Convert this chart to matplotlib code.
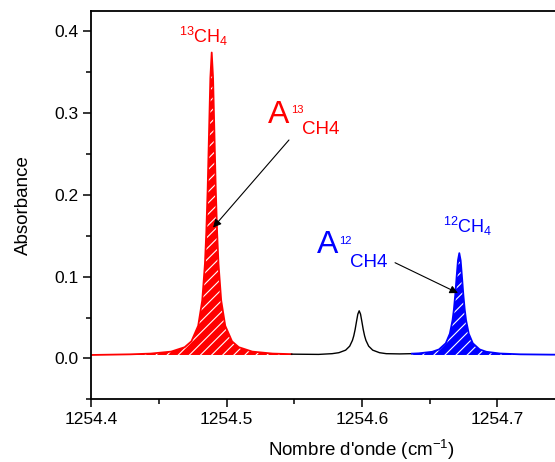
import numpy as np
import matplotlib
matplotlib.use("Agg")
import matplotlib.pyplot as plt

plt.rcParams['font.family'] = ['Liberation Sans', 'DejaVu Sans']
plt.rcParams['mathtext.fontset'] = 'custom'
plt.rcParams['mathtext.rm'] = 'Liberation Sans'
plt.rcParams['mathtext.it'] = 'Liberation Sans'
plt.rcParams['mathtext.default'] = 'regular'
plt.rcParams['hatch.linewidth'] = 0.8

# ---- data ----
red_x = [1254.400, 1254.429, 1254.444, 1254.459, 1254.469, 1254.474, 1254.479,
         1254.482, 1254.484, 1254.485, 1254.486, 1254.487, 1254.488, 1254.489,
         1254.490, 1254.491, 1254.492, 1254.493, 1254.494, 1254.496, 1254.499,
         1254.504, 1254.509, 1254.519, 1254.534, 1254.548]
red_y = [0.0043, 0.0051, 0.0060, 0.0084, 0.0138, 0.0210, 0.0400,
         0.0710, 0.1160, 0.1540, 0.2070, 0.2750, 0.3430, 0.3740,
         0.3430, 0.2750, 0.2070, 0.1540, 0.1160, 0.0710, 0.0400,
         0.0210, 0.0138, 0.0084, 0.0060, 0.0053]

black_x = [1254.548, 1254.568, 1254.578, 1254.583, 1254.588, 1254.591, 1254.593,
           1254.594, 1254.595, 1254.596, 1254.597, 1254.598, 1254.599, 1254.600,
           1254.601, 1254.602, 1254.603, 1254.605, 1254.608, 1254.613, 1254.618,
           1254.628, 1254.637]
black_y = [0.0053, 0.0050, 0.0059, 0.0071, 0.0102, 0.0151, 0.0221,
           0.0277, 0.0354, 0.0450, 0.0542, 0.0583, 0.0542, 0.0450,
           0.0354, 0.0277, 0.0221, 0.0151, 0.0102, 0.0071, 0.0059,
           0.0056, 0.0059]

blue_x = [1254.637, 1254.642, 1254.652, 1254.657, 1254.662, 1254.665, 1254.667,
          1254.668, 1254.669, 1254.670, 1254.671, 1254.672, 1254.673, 1254.674,
          1254.675, 1254.676, 1254.677, 1254.679, 1254.682, 1254.687, 1254.692,
          1254.702, 1254.717, 1254.740, 1254.800]
blue_y = [0.0059, 0.0063, 0.0082, 0.0111, 0.0186, 0.0303, 0.0468,
          0.0600, 0.0778, 0.0994, 0.1199, 0.1288, 0.1199, 0.0994,
          0.0778, 0.0600, 0.0468, 0.0303, 0.0186, 0.0111, 0.0082,
          0.0061, 0.0051, 0.0047, 0.0044]

fill_base = 0.0043

x_ticks = [1254.4, 1254.5, 1254.6, 1254.7]
x_tick_labels = ["1254.4", "1254.5", "1254.6", "1254.7"]
y_ticks = [0.0, 0.1, 0.2, 0.3, 0.4]
y_tick_labels = ["0.0", "0.1", "0.2", "0.3", "0.4"]

RED = (1.0, 0.0, 0.0)
BLUE = (0.0, 0.0, 1.0)

fig = plt.figure(figsize=(5.55, 4.62), dpi=100)
ax = fig.add_axes([0.1645, 0.1355, 0.9751, 0.8411])

ax.fill_between(red_x, red_y, fill_base, facecolor=RED, edgecolor='white',
                hatch='///', linewidth=0)
ax.fill_between(blue_x, blue_y, fill_base, facecolor=BLUE, edgecolor='white',
                hatch='///', linewidth=0)
ax.plot(red_x, red_y, color=RED, lw=1.3)
ax.plot(black_x, black_y, color='black', lw=1.0)
ax.plot(blue_x, blue_y, color=BLUE, lw=1.3)

ax.set_xlim(1254.4, 1254.8)
ax.set_ylim(-0.05, 0.425)
ax.set_xticks(x_ticks)
ax.set_xticklabels(x_tick_labels)
ax.set_yticks(y_ticks)
ax.set_yticklabels(y_tick_labels)
ax.set_xticks([1254.45, 1254.55, 1254.65, 1254.75], minor=True)
ax.set_yticks([-0.05, 0.05, 0.15, 0.25, 0.35], minor=True)
ax.tick_params(which='major', direction='out', length=6, width=1.1,
               labelsize=12.5, colors='black', pad=3)
ax.tick_params(which='minor', direction='out', length=3.5, width=1.1)
ax.tick_params(top=False, right=False, which='both')
for s in ['left', 'bottom', 'top']:
    ax.spines[s].set_linewidth(1.3)
ax.spines['right'].set_visible(False)

ax.set_xlabel("Nombre d'onde (cm$^{-1}$)", fontsize=13.5, labelpad=8)
ax.set_ylabel("Absorbance", fontsize=13.5, labelpad=16)

# peak labels
ax.text(1254.465, 0.386, r'$^{13}$CH$_4$', color=RED, fontsize=13,
        ha='left', va='baseline')
ax.text(1254.6601, 0.153, r'$^{12}$CH$_4$', color=BLUE, fontsize=13,
        ha='left', va='baseline')

# integrated-area labels
ax.text(1254.5308, 0.2883, 'A', color=RED, fontsize=23, ha='left', va='baseline')
ax.text(1254.5474, 0.3005, '13', color=RED, fontsize=8, ha='left', va='baseline')
ax.text(1254.5555, 0.274, 'CH4', color=RED, fontsize=13.5, ha='left', va='baseline')

ax.text(1254.567, 0.1286, 'A', color=BLUE, fontsize=23, ha='left', va='baseline')
ax.text(1254.5829, 0.1396, '12', color=BLUE, fontsize=8, ha='left', va='baseline')
ax.text(1254.5912, 0.1122, 'CH4', color=BLUE, fontsize=13.5, ha='left', va='baseline')

arrow = dict(arrowstyle='-|>', color='black', lw=0.8, mutation_scale=12,
             shrinkA=0, shrinkB=0)
ax.annotate('', xy=(1254.490, 0.160), xytext=(1254.5461, 0.2671), arrowprops=arrow)
ax.annotate('', xy=(1254.671, 0.080), xytext=(1254.6245, 0.1171), arrowprops=arrow)

fig.savefig('out.png', dpi=100)
